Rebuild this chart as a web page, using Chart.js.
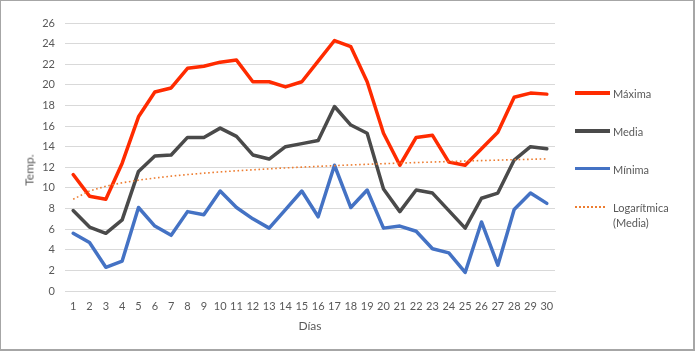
<!DOCTYPE html>
<html>
<head>
<meta charset="utf-8">
<script src="https://cdn.jsdelivr.net/npm/chart.js@4/dist/chart.umd.min.js"></script>
<style>
  html, body { margin: 0; padding: 0; background: #fff; }
  #wrap { position: relative; width: 695px; height: 351px; overflow: hidden; font-family: Lato, "Liberation Sans", sans-serif; color: #595959; }
  #frame { position: absolute; left: 0; top: 0; width: 695px; height: 351px; box-sizing: border-box;
           border-top: 1px solid #a6a6a6; border-left: 1px solid #a6a6a6; border-right: 2px solid #a6a6a6; border-bottom: 2px solid #a6a6a6; pointer-events: none; }
  canvas { position: absolute; left: 0; top: 0; }
  .ytitle { position: absolute; left: 29px; top: 170px; transform: translate(-50%, -50%) rotate(-90deg); font-size: 12px; white-space: nowrap; }
  .leg { position: absolute; left: 575px; font-size: 11px; }
  .leg .ln { position: absolute; left: 0; width: 35px; }
  .leg .tx { position: absolute; left: 38px; white-space: nowrap; line-height: 15px; transform: translateY(-7.5px); }
</style>
</head>
<body>
<div id="wrap">
  <canvas id="c" width="695" height="351"></canvas>
  <div class="ytitle">Temp.</div>
  <div id="legend"></div>
  <div id="frame"></div>
</div>
<script>
const dias = ["1","2","3","4","5","6","7","8","9","10","11","12","13","14","15","16","17","18","19","20","21","22","23","24","25","26","27","28","29","30"];
const maxima = [11.3, 9.2, 8.9, 12.4, 16.9, 19.3, 19.7, 21.6, 21.8, 22.2, 22.4, 20.3, 20.3, 19.8, 20.3, 22.3, 24.3, 23.7, 20.3, 15.3, 12.2, 14.9, 15.1, 12.5, 12.2, 13.8, 15.4, 18.8, 19.2, 19.1];
const media = [7.8, 6.2, 5.6, 6.9, 11.6, 13.1, 13.2, 14.9, 14.9, 15.8, 15.0, 13.2, 12.8, 14.0, 14.3, 14.6, 17.9, 16.1, 15.3, 9.9, 7.7, 9.8, 9.5, 7.8, 6.1, 9.0, 9.5, 12.7, 14.0, 13.8];
const minima = [5.6, 4.7, 2.3, 2.9, 8.1, 6.3, 5.4, 7.7, 7.4, 9.7, 8.1, 7.0, 6.1, 7.9, 9.7, 7.2, 12.2, 8.1, 9.8, 6.1, 6.3, 5.8, 4.1, 3.7, 1.8, 6.7, 2.5, 7.9, 9.5, 8.5];
const yTicks = [0, 2, 4, 6, 8, 10, 12, 14, 16, 18, 20, 22, 24, 26];

// Logarithmic trendline (least squares fit of Media on ln(day)), as the chart's trendline
function logFit(vals) {
  const n = vals.length;
  const xs = vals.map((_, i) => Math.log(i + 1));
  const mx = xs.reduce((a, b) => a + b, 0) / n;
  const my = vals.reduce((a, b) => a + b, 0) / n;
  let sxy = 0, sxx = 0;
  for (let i = 0; i < n; i++) { sxy += (xs[i] - mx) * (vals[i] - my); sxx += (xs[i] - mx) ** 2; }
  const a = sxy / sxx, b = my - a * mx;
  return xs.map(x => a * x + b);
}
const tendencia = logFit(media);

const FONT = 'Lato, "Liberation Sans", sans-serif';
const series = [
  { label: 'Máxima', data: maxima, color: '#FF2B00', width: 3.5, dash: [] },
  { label: 'Media', data: media, color: '#4A4A4A', width: 3.5, dash: [] },
  { label: 'Mínima', data: minima, color: '#4472C4', width: 3.5, dash: [] },
  { label: 'Logarítmica\n(Media)', data: tendencia, color: '#ED7D31', width: 1.6, dash: [1.6, 2.6] }
];

new Chart(document.getElementById('c'), {
  type: 'line',
  data: {
    labels: dias,
    datasets: series.map((s, i) => ({
      label: s.label, data: s.data, borderColor: s.color, backgroundColor: s.color,
      borderWidth: s.width, borderDash: s.dash, pointRadius: 0, tension: 0, fill: false,
      borderJoinStyle: 'round', borderCapStyle: s.dash.length ? 'butt' : 'round',
      order: i === 3 ? 0 : i + 1
    }))
  },
  options: {
    responsive: false, animation: false, devicePixelRatio: 1,
    layout: { padding: { left: 0, right: 140, top: 23, bottom: 0 } },
    plugins: { legend: { display: false }, tooltip: { enabled: false } },
    scales: {
      x: {
        offset: true,
        grid: { display: false, drawTicks: false, offset: true },
        border: { display: true, color: '#d9d9d9', width: 1 },
        ticks: { color: '#595959', font: { family: FONT, size: 11 }, padding: 9, maxRotation: 0, autoSkip: false },
        title: { display: true, text: 'Días', color: '#595959', font: { family: FONT, size: 12 }, padding: { top: 0, bottom: 18 } },
        afterFit: (s) => { s.height = 60; }
      },
      y: {
        min: 0, max: 26,
        afterBuildTicks: (s) => { s.ticks = yTicks.map(v => ({ value: v })); },
        grid: { color: '#d9d9d9', lineWidth: 1, drawTicks: false },
        border: { display: false },
        ticks: { color: '#595959', font: { family: FONT, size: 11 }, padding: 10 },
        afterFit: (s) => { s.width = 65; }
      }
    }
  }
});

// HTML legend built from the series
const legY = [93, 131, 168.5, 207];
const leg = document.getElementById('legend');
series.forEach((s, i) => {
  const item = document.createElement('div');
  item.className = 'leg';
  item.style.top = legY[i] + 'px';
  const ln = document.createElement('div');
  ln.className = 'ln';
  if (s.dash.length) {
    ln.style.width = '30px';
    ln.style.borderTop = '2px dotted ' + s.color;
    ln.style.top = '-1px';
  } else {
    ln.style.height = '3.5px';
    ln.style.background = s.color;
    ln.style.top = '-1.75px';
  }
  const tx = document.createElement('div');
  tx.className = 'tx';
  tx.innerHTML = s.label.split('\n').join('<br>');
  item.appendChild(ln); item.appendChild(tx);
  leg.appendChild(item);
});
</script>
</body>
</html>
